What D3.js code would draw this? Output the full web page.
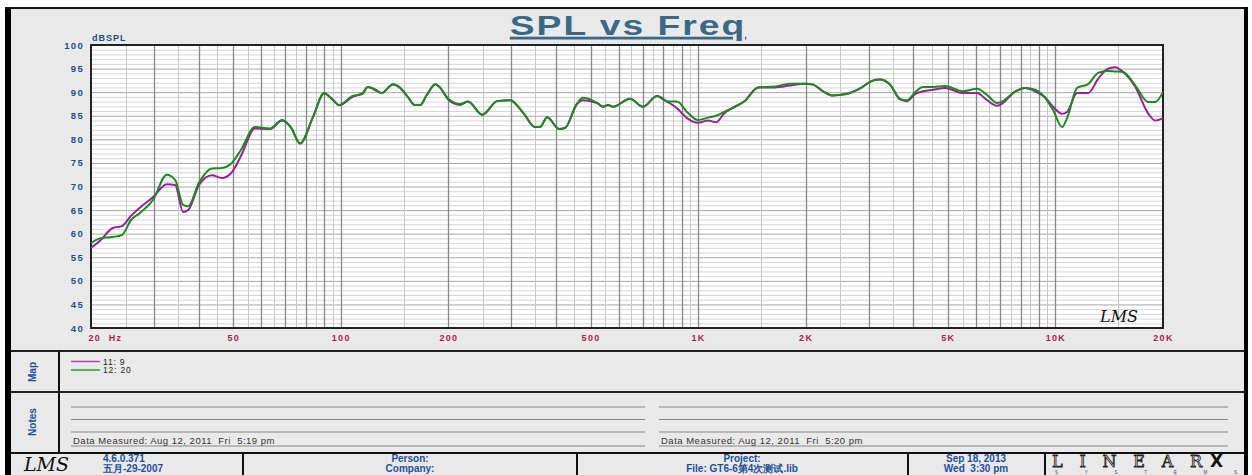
<!DOCTYPE html>
<html>
<head>
<meta charset="utf-8">
<script src="https://cdn.jsdelivr.net/npm/d3@7"></script>
<style>
  body { margin: 0; background: #fff; }
  svg { display: block; font-family: 'Liberation Sans', Arial, sans-serif; }
  .tickY text { fill: #1d4f8f; font-weight: bold; font-size: 9.5px; letter-spacing: 1.3px; }
  .tickX text { fill: #b01c4c; font-weight: bold; font-size: 9px; letter-spacing: 1.3px; }
  .blue { fill: #1d4f9c; font-weight: bold; font-size: 10px; }
</style>
</head>
<body>
<svg id="chart"></svg>
<script>
const freqs = [20, 21.2, 23.0, 24.4, 25.9, 27.4, 29.8, 32.6, 34.4, 36.2, 37.4, 40.1, 43.6, 46.5, 49.3,
  52.6, 57.5, 63.4, 68.5, 72.6, 76.9, 83.6, 89.8, 95.1, 98.9, 108, 115, 119, 125, 130, 140, 147,
  154, 161, 167, 174, 184, 190, 200, 216, 227, 249, 274, 298, 324, 350, 361, 378, 408, 424, 458,
  476, 522, 542, 560, 578, 645, 701, 768, 819, 873, 931, 1000, 1066, 1123, 1182, 1245, 1354, 1472,
  1642, 1808, 1992, 2098, 2224, 2372, 2596, 2840, 3068, 3230, 3446, 3676, 3844, 4048, 4262, 4546,
  4912, 5516, 6036, 6438, 6866, 7136, 7612, 8224, 8772, 9354, 9848, 10436, 10778, 11496, 12344,
  13166, 13952, 14688, 15466, 16706, 18168, 19006, 20000];

// "11: 9" (purple)
const spl11 = [57.0, 58.5, 61.2, 61.6, 63.8, 65.5, 67.7, 70.5, 70.3, 64.6, 65.0, 70.3, 72.4, 71.8, 72.8,
  76.5, 82.3, 82.2, 84.0, 82.5, 79.1, 84.7, 89.7, 88.4, 87.2, 89.0, 89.8, 91.1, 90.4, 89.8, 91.6, 90.8,
  89.0, 87.3, 87.3, 89.4, 91.7, 90.9, 88.4, 87.3, 88.0, 85.2, 88.1, 88.3, 85.6, 82.6, 82.6, 84.7, 82.2, 82.4, 87.5,
  88.3, 87.7, 86.9, 87.3, 86.9, 88.6, 86.9, 89.2, 88.0, 86.6, 84.5, 83.5, 84.0, 83.6, 85.5, 86.6, 88.2, 91.0,
  91.0, 91.4, 91.8, 91.6, 90.3, 89.3, 89.6, 90.8, 92.4, 92.7, 91.6, 88.5, 88.1, 89.6, 90.2, 90.5,
  90.9, 89.8, 89.8, 88.3, 87.1, 87.7, 89.8, 90.9, 90.2, 88.9, 86.9, 85.4, 85.8, 89.8, 89.8,
  92.8, 94.9, 95.3, 94.3, 91.2, 85.5, 84.0, 84.5];

// "12: 20" (green)
const spl12 = [58.0, 59.0, 59.3, 59.7, 62.9, 64.4, 67.1, 72.5, 71.4, 66.1, 65.8, 70.8, 73.8, 73.9, 74.8,
  77.8, 82.6, 82.3, 84.1, 82.5, 79.1, 84.7, 89.8, 88.3, 87.3, 89.2, 89.6, 91.1, 90.6, 89.8, 91.7, 90.9,
  89.0, 87.3, 87.3, 89.4, 91.7, 90.9, 88.6, 87.5, 88.0, 85.2, 88.1, 88.3, 85.6, 82.6, 82.6, 84.7, 82.2, 82.4, 87.5,
  88.8, 87.7, 86.9, 87.3, 86.9, 88.6, 86.9, 89.2, 88.0, 88.0, 85.8, 84.1, 84.6, 85.0, 85.8, 86.6, 88.2, 91.0,
  91.2, 91.8, 91.8, 91.6, 90.3, 89.3, 89.6, 90.8, 92.4, 92.7, 91.6, 88.5, 88.3, 90.0, 91.1, 91.1,
  91.3, 90.2, 90.7, 89.4, 87.7, 88.1, 89.8, 90.9, 90.5, 88.8, 86.2, 82.6, 84.5, 90.9, 91.7,
  94.1, 94.5, 94.4, 94.3, 91.5, 87.9, 87.9, 90.0];

const seriesNames = ['11: 9', '12: 20'];
const seriesColors = ['#9a1f9a', '#1d8a1d'];

const dbTicks = [40, 45, 50, 55, 60, 65, 70, 75, 80, 85, 90, 95, 100];
const freqTicks = [20, 50, 100, 200, 500, 1000, 2000, 5000, 10000, 20000];
const freqLabels = ['20  Hz', '50', '100', '200', '500', '1K', '2K', '5K', '10K', '20K'];

const app = (function () {
  'use strict';

  function init () {
    draw();
  }

  function draw () {
    const W = 1252;
    const H = 475;
    const plot = { left: 91, right: 1163, top: 45, bottom: 328 };

    const svg = d3.select('#chart')
      .attr('width', W)
      .attr('height', H);

    // page background + frame
    svg.append('rect').attr('x', 8).attr('y', 8).attr('width', 1238).attr('height', 470)
      .attr('fill', '#e9e9e9');
    svg.append('rect').attr('x', 5).attr('y', 7).attr('width', 6).attr('height', 470).attr('fill', '#000');
    svg.append('rect').attr('x', 5).attr('y', 7).attr('width', 1243).attr('height', 2).attr('fill', '#111');
    svg.append('rect').attr('x', 1244).attr('y', 7).attr('width', 4).attr('height', 470).attr('fill', '#000');

    const x = d3.scaleLog()
      .domain([20, 20000])
      .range([plot.left, plot.right]);

    const y = d3.scaleLinear()
      .domain([40, 100])
      .range([plot.bottom, plot.top]);

    // title (stretched wide like the original)
    svg.append('text')
      .attr('transform', 'translate(628,35) scale(1.33,1)')
      .attr('text-anchor', 'middle')
      .attr('fill', '#3b6886')
      .attr('font-size', '28px')
      .attr('font-weight', 'bold')
      .attr('letter-spacing', '1.5px')
      .style('text-decoration', 'underline')
      .text('SPL vs Freq');

    // plot area
    svg.append('rect')
      .attr('x', plot.left).attr('y', plot.top)
      .attr('width', plot.right - plot.left).attr('height', plot.bottom - plot.top)
      .attr('fill', '#fff');

    const grid = svg.append('g').attr('class', 'grid');

    grid.selectAll('line.h')
      .data(d3.range(41, 100))
      .enter().append('line')
      .attr('x1', plot.left).attr('x2', plot.right)
      .attr('y1', function (d) { return y(d) + 0.5; })
      .attr('y2', function (d) { return y(d) + 0.5; })
      .attr('stroke', function (d) { return d % 5 === 0 ? '#a8a8a8' : '#d6d6d6'; })
      .attr('stroke-width', 1);

    let vlines = [];
    [10, 100, 1000, 10000].forEach(function (b) {
      for (let m = 1.5; m <= 10; m += 0.5) {
        const f = b * m;
        if (f > 20 && f < 20000) vlines.push({ f: f, major: m % 1 === 0 });
      }
    });

    grid.selectAll('line.v')
      .data(vlines)
      .enter().append('line')
      .attr('y1', plot.top).attr('y2', plot.bottom)
      .attr('x1', function (d) { return Math.round(x(d.f)) + 0.5; })
      .attr('x2', function (d) { return Math.round(x(d.f)) + 0.5; })
      .attr('stroke', function (d) { return d.major ? '#888' : '#c8c8c8'; })
      .attr('stroke-width', function (d) { return d.major ? 1.3 : 1; });

    // frame of the plot
    svg.append('rect')
      .attr('x', plot.left).attr('y', plot.top)
      .attr('width', plot.right - plot.left).attr('height', plot.bottom - plot.top)
      .attr('fill', 'none')
      .attr('stroke', '#222')
      .attr('stroke-width', 2);

    // axes
    svg.append('g')
      .attr('class', 'tickY')
      .attr('transform', 'translate(' + plot.left + ',0)')
      .call(d3.axisLeft(y).tickValues(dbTicks).tickSize(0).tickPadding(7))
      .call(function (g) { g.select('.domain').remove(); });

    svg.append('g')
      .attr('class', 'tickX')
      .attr('transform', 'translate(0,' + plot.bottom + ')')
      .call(d3.axisBottom(x).tickValues(freqTicks).tickSize(0).tickPadding(7)
        .tickFormat(function (d, i) { return freqLabels[i]; }))
      .call(function (g) {
        g.select('.domain').remove();
        g.selectAll('text').style('white-space', 'pre');
        g.select('.tick text').attr('text-anchor', 'start').attr('x', -3);
      });

    svg.append('text')
      .attr('x', plot.left + 1)
      .attr('y', plot.top - 4)
      .attr('fill', '#1d4f8f')
      .attr('font-size', '9px')
      .attr('font-weight', 'bold')
      .attr('letter-spacing', '1px')
      .text('dBSPL');

    // LMS watermark
    svg.append('text')
      .attr('x', 1100).attr('y', 322)
      .attr('font-family', 'DejaVu Serif, serif')
      .attr('font-style', 'italic')
      .attr('font-size', '16px')
      .attr('fill', '#111')
      .text('LMS');

    // curves
    const line = d3.line()
      .x(function (d) { return x(d[0]); })
      .y(function (d) { return y(d[1]); })
      .curve(d3.curveMonotoneX);

    svg.append('clipPath').attr('id', 'clip')
      .append('rect')
      .attr('x', plot.left).attr('y', plot.top)
      .attr('width', plot.right - plot.left).attr('height', plot.bottom - plot.top);

    [spl11, spl12].forEach(function (vals, i) {
      svg.append('path')
        .datum(freqs.map(function (f, j) { return [f, vals[j]]; }))
        .attr('clip-path', 'url(#clip)')
        .attr('fill', 'none')
        .attr('stroke', seriesColors[i])
        .attr('stroke-width', 2)
        .attr('d', line);
    });

    // panels below
    const panel = svg.append('g');
    const hl = function (y0, x0, x1, c, w) {
      panel.append('line').attr('x1', x0).attr('x2', x1).attr('y1', y0).attr('y2', y0)
        .attr('stroke', c).attr('stroke-width', w);
    };
    const vl = function (x0, y0, y1) {
      panel.append('line').attr('x1', x0).attr('x2', x0).attr('y1', y0).attr('y2', y1)
        .attr('stroke', '#111').attr('stroke-width', 2);
    };

    hl(351, 11, 1244, '#222', 2);
    hl(392, 11, 1244, '#222', 2);
    hl(453, 11, 1244, '#111', 2);
    vl(59, 351, 453);
    vl(243, 453, 475);
    vl(577, 453, 475);
    vl(908, 453, 475);
    vl(1045, 453, 475);

    panel.append('text')
      .attr('transform', 'translate(36,372) rotate(-90)')
      .attr('text-anchor', 'middle')
      .attr('fill', '#1d4f9c')
      .attr('font-size', '10px')
      .attr('font-weight', 'bold')
      .attr('font-family', 'Liberation Sans Narrow, Liberation Sans, sans-serif')
      .text('Map');

    panel.append('text')
      .attr('transform', 'translate(36,422) rotate(-90)')
      .attr('text-anchor', 'middle')
      .attr('fill', '#1d4f9c')
      .attr('font-size', '10px')
      .attr('font-weight', 'bold')
      .attr('font-family', 'Liberation Sans Narrow, Liberation Sans, sans-serif')
      .text('Notes');

    // legend
    const legend = panel.selectAll('g.legend')
      .data(seriesNames)
      .enter().append('g')
      .attr('transform', function (d, i) { return 'translate(71,' + (361.5 + i * 8.5) + ')'; });
    legend.append('line')
      .attr('x1', 0).attr('x2', 29).attr('y1', 0).attr('y2', 0)
      .attr('stroke', function (d, i) { return i ? '#2e9a2e' : '#b04ab0'; })
      .attr('stroke-width', 1.5);
    legend.append('text')
      .attr('x', 32).attr('y', 3)
      .attr('font-size', '8.5px')
      .attr('fill', '#222')
      .attr('letter-spacing', '0.8px')
      .text(function (d) { return d; });

    // notes lines
    const notes = [
      { x0: 71, x1: 645, text: 'Data Measured: Aug 12, 2011  Fri  5:19 pm' },
      { x0: 659, x1: 1228, text: 'Data Measured: Aug 12, 2011  Fri  5:20 pm' }
    ];
    notes.forEach(function (n) {
      [407, 419.5, 432, 446].forEach(function (yy) { hl(yy, n.x0, n.x1, '#888', 1.2); });
      panel.append('text')
        .attr('x', n.x0 + 2).attr('y', 444)
        .attr('font-size', '9.5px')
        .attr('fill', '#333')
        .attr('letter-spacing', '0.5px')
        .style('white-space', 'pre')
        .text(n.text);
    });

    // footer
    panel.append('text')
      .attr('x', 24).attr('y', 471)
      .attr('font-family', 'DejaVu Serif, serif')
      .attr('font-style', 'italic')
      .attr('font-size', '19px')
      .attr('fill', '#111')
      .text('LMS');

    const foot = [
      { x: 103, anchor: 'start', a: '4.6.0.371', b: '五月-29-2007' },
      { x: 410, anchor: 'middle', a: 'Person:', b: 'Company:' },
      { x: 742, anchor: 'middle', a: 'Project:', b: 'File: GT6-6第4次测试.lib' },
      { x: 976, anchor: 'middle', a: 'Sep 18, 2013', b: 'Wed  3:30 pm' }
    ];
    foot.forEach(function (d) {
      panel.append('text').attr('class', 'blue')
        .attr('x', d.x).attr('y', 462).attr('text-anchor', d.anchor)
        .text(d.a);
      panel.append('text').attr('class', 'blue')
        .attr('x', d.x).attr('y', 472).attr('text-anchor', d.anchor)
        .style('white-space', 'pre')
        .text(d.b);
    });

    panel.append('text')
      .attr('x', 1052).attr('y', 467)
      .attr('font-family', 'DejaVu Serif, serif')
      .attr('font-size', '16px')
      .attr('fill', '#e9e9e9')
      .attr('stroke', '#222')
      .attr('stroke-width', 0.8)
      .attr('textLength', 150)
      .attr('lengthAdjust', 'spacing')
      .text('LINEAR');
    panel.append('text')
      .attr('x', 1210).attr('y', 467)
      .attr('font-family', 'DejaVu Sans, sans-serif')
      .attr('font-size', '17px')
      .attr('font-weight', 'bold')
      .attr('fill', '#111')
      .text('X');
    panel.append('text')
      .attr('x', 1055).attr('y', 474)
      .attr('font-size', '4.5px')
      .attr('fill', '#1d4f9c')
      .attr('textLength', 182)
      .attr('lengthAdjust', 'spacing')
      .text('SYSTEMS');
  }

  return {
    init: init
  };
}());

window.addEventListener('load', app.init);
</script>
</body>
</html>
